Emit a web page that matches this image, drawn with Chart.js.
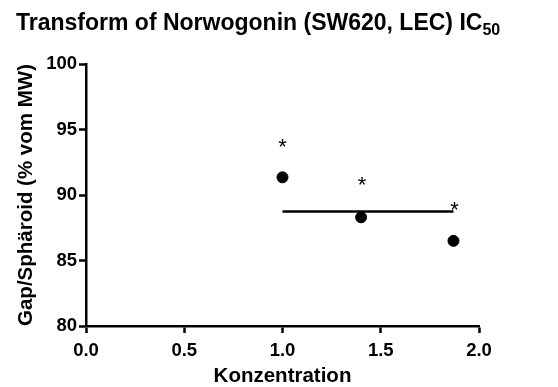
<!DOCTYPE html>
<html>
<head>
<meta charset="utf-8">
<script src="https://cdn.jsdelivr.net/npm/chart.js@4"></script>
<style>
  body { margin: 0; background: #fff; }
  .wrap { position: relative; width: 558px; height: 387px; }
  #title {
    position: absolute; left: 16px; top: 11px;
    font: bold 23px "Liberation Sans", Arial, sans-serif; line-height: 23px;
    color: #000; white-space: nowrap;
  }
  #title span { font-size: 16px; position: relative; top: 5px; }
</style>
</head>
<body>
<div class="wrap">
  <canvas id="chart" width="558" height="387"></canvas>
  <div id="title">Transform of Norwogonin (SW620, LEC) IC<span>50</span></div>
</div>
<script>
// data
const konz    = [1.0, 1.4, 1.87];
const gap     = [91.35, 88.3, 86.5];
const mittel  = [88.75];          // horizontal line, drawn from first to last concentration
const sternY  = [94.1, 91.2, 89.3]; // asterisks (significance marks)
const sternX  = [1.0, 1.405, 1.875];
const xTicks  = [0, 0.5, 1.0, 1.5, 2.0];
const yTicks  = [80, 85, 90, 95, 100];

const font = "'Liberation Sans', Arial, sans-serif";

// draws a '*' at each point of the dataset flagged with stars:true
const starPlugin = {
  id: "stars",
  afterDatasetsDraw(chart) {
    const ctx = chart.ctx;
    chart.data.datasets.forEach((ds, i) => {
      if (!ds.stars) return;
      chart.getDatasetMeta(i).data.forEach(p => {
        ctx.save();
        ctx.fillStyle = "#000";
        ctx.font = "22px " + font;
        ctx.textAlign = "center";
        ctx.textBaseline = "alphabetic";
        ctx.fillText("*", p.x, p.y + 12.5);
        ctx.restore();
      });
    });
  }
};

new Chart(document.getElementById("chart"), {
  type: "scatter",
  data: {
    datasets: [
      {
        data: konz.map((x, i) => ({ x, y: gap[i] })),
        backgroundColor: "#000", borderColor: "#000",
        pointRadius: 5.5, pointHoverRadius: 5.5
      },
      {
        type: "line",
        data: [{ x: konz[0], y: mittel[0] }, { x: konz[konz.length - 1], y: mittel[0] }],
        borderColor: "#000", borderWidth: 2.5, pointRadius: 0, showLine: true
      },
      {
        stars: true,
        data: sternX.map((x, i) => ({ x, y: sternY[i] })),
        pointRadius: 0
      }
    ]
  },
  options: {
    responsive: false,
    animation: false,
    layout: { padding: { top: 64, right: 79, left: 0, bottom: 0 } },
    plugins: { legend: { display: false }, tooltip: { enabled: false } },
    scales: {
      x: {
        type: "linear", min: 0, max: 2,
        afterFit: s => { s.height = 61; },
        afterBuildTicks: s => { s.ticks = xTicks.map(v => ({ value: v })); },
        ticks: { color: "#000", padding: 7, font: { family: font, size: 18.5, weight: "bold" },
                 callback: v => v.toFixed(1) },
        grid: { drawOnChartArea: false, tickLength: 7, tickWidth: 2.5, tickColor: "#000" },
        border: { color: "#000", width: 2.5 },
        title: { display: true, text: "Konzentration", color: "#000",
                 font: { family: font, size: 20.5, weight: "bold", lineHeight: 1.0 },
                 padding: { top: 0, bottom: 0 } }
      },
      y: {
        min: 80, max: 100,
        afterFit: s => { s.width = 86; },
        afterBuildTicks: s => { s.ticks = yTicks.map(v => ({ value: v })); },
        ticks: { color: "#000", padding: 2, font: { family: font, size: 18.5, weight: "bold" } },
        grid: { drawOnChartArea: false, tickLength: 7, tickWidth: 2.5, tickColor: "#000" },
        border: { color: "#000", width: 2.5 },
        title: { display: true, text: "Gap/Sphäroid (% vom MW)", color: "#000",
                 font: { family: font, size: 20.5, weight: "bold", lineHeight: 1.2 },
                 padding: { top: 14, bottom: 0 } }
      }
    }
  },
  plugins: [starPlugin]
});
</script>
</body>
</html>
